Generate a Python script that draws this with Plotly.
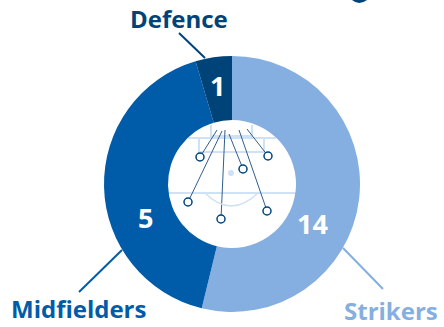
import plotly.graph_objects as go

positions = ["Strikers", "Midfielders", "Defence"]
displayed_counts = [14, 5, 1]
slice_shares = [53.8, 41.6, 4.6]   # shares as drawn in the reference (%)
slice_colors = ["#85AFE0", "#005CA9", "#004379"]

W, H = 444, 327
CX, CY, R = 232, 184, 128
FONT = "Open Sans"

fig = go.Figure()

fig.update_layout(
    width=W, height=H, margin=dict(l=0, r=0, t=0, b=0),
    paper_bgcolor="white", plot_bgcolor="rgba(0,0,0,0)", showlegend=False,
    xaxis=dict(range=[0, W], visible=False, fixedrange=True, domain=[0, 1]),
    yaxis=dict(range=[H, 0], visible=False, fixedrange=True, domain=[0, 1]),
)

fig.add_trace(go.Pie(
    labels=positions, values=slice_shares, hole=0.5, sort=False, direction="clockwise",
    rotation=0, marker=dict(colors=slice_colors, line=dict(width=0)),
    textinfo="none",
    domain=dict(x=[(CX - R) / W, (CX + R) / W], y=[(H - CY - R) / H, (H - CY + R) / H]),
    hoverinfo="skip",
))

PITCH = "#CFE1F4"
pitch_lines = [
    ([211, 211, 252, 252], [125, 136, 136, 125]),
    ([199, 199, 264, 264], [138, 152, 152, 138]),
    ([188, 276], [138, 138]),
    ([168, 296], [193, 193]),
]
for xs, ys in pitch_lines:
    fig.add_trace(go.Scatter(x=xs, y=ys, mode="lines", line=dict(color=PITCH, width=2), hoverinfo="skip"))
fig.add_shape(type="path", path="M 205 193 Q 231 219 258 193", line=dict(color=PITCH, width=1.5))
fig.add_trace(go.Scatter(x=[231], y=[173], mode="markers", marker=dict(color=PITCH, size=6), hoverinfo="skip"))

player_start_x = [217, 222, 225, 229, 239, 247]
player_start_y = [130, 131, 130, 134, 130, 129]
player_end_x = [200, 188, 221, 243, 267, 268]
player_end_y = [157, 202, 219, 169, 211, 156]
for x0, y0, x1, y1 in zip(player_start_x, player_start_y, player_end_x, player_end_y):
    fig.add_trace(go.Scatter(x=[x0, x1], y=[y0, y1], mode="lines",
                             line=dict(color="#2F5F8F", width=1), hoverinfo="skip"))
fig.add_trace(go.Scatter(
    x=player_end_x, y=player_end_y, mode="markers",
    marker=dict(size=8, color="white", line=dict(color="#004379", width=1.5)), hoverinfo="skip",
))

leaders = [
    ([179, 205], [33, 58], "#004379"),
    ([79, 122], [292, 250], "#005CA9"),
    ([343, 383], [248, 289], "#85AFE0"),
]
for xs, ys, c in leaders:
    fig.add_trace(go.Scatter(x=xs, y=ys, mode="lines", line=dict(color=c, width=2), hoverinfo="skip"))

# tail of the clipped title at the top edge
fig.add_shape(type="path", path="M 352 0 Q 359 6 367 0 Z", fillcolor="#004379", line=dict(width=0))

label_x = [391, 79, 179]
label_y = [310, 308, 18]
for text, x, y, c in zip(positions, label_x, label_y, slice_colors):
    fig.add_annotation(x=x, y=y, xref="x", yref="y", text=f"<b>{text}</b>", showarrow=False,
                       font=dict(family=FONT, size=24, color=c))

count_x = [312, 145, 217]
count_y = [223, 217, 85]
for n, x, y in zip(displayed_counts, count_x, count_y):
    fig.add_annotation(x=x, y=y, xref="x", yref="y", text=f"<b>{n}</b>", showarrow=False,
                       font=dict(family=FONT, size=27, color="white"))

fig.write_html("out.html", config={"displayModeBar": False},
               post_script="document.body.style.margin='0';document.documentElement.style.overflow='hidden';")
